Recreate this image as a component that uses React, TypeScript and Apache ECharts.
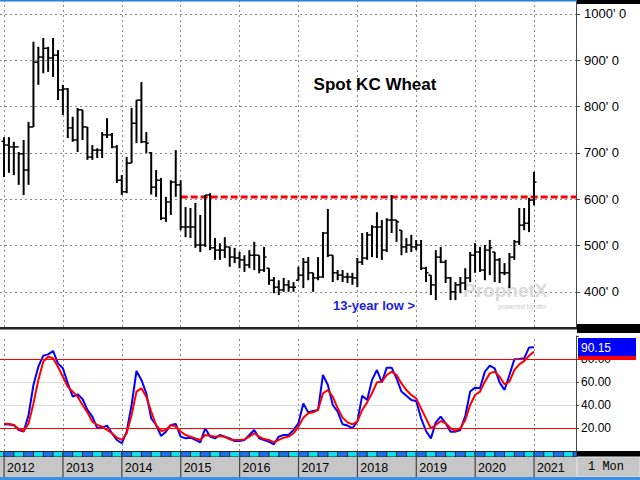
import React, { useEffect, useRef } from "react";
import * as echarts from "echarts";

// ---- data (monthly, Jan 2012 .. Jan 2021) ----
const yearLabels = ["2012", "2013", "2014", "2015", "2016", "2017", "2018", "2019", "2020", "2021"];
const yearStartMonths = [0, 12, 24, 36, 48, 60, 72, 84, 96, 108];

const openPrices = [
  725, 717, 713, 713, 698, 663, 756, 896, 907, 926, 905, 911,
  836, 838, 754, 728, 793, 756, 691, 706, 706, 739, 739, 713,
  641, 616, 678, 764, 814, 724, 700, 626, 641, 559, 594, 637,
  631, 540, 540, 540, 501, 501, 609, 495, 490, 490, 497, 475,
  473, 469, 458, 479, 479, 447, 451, 425, 410, 404, 415, 410,
  425, 436, 464, 441, 430, 432, 527, 479, 441, 436, 432, 432,
  430, 464, 473, 523, 540, 540, 490, 555, 555, 533, 497, 501,
  497, 501, 451, 436, 415, 475, 464, 430, 400, 415, 419, 430,
  479, 486, 447, 490, 486, 469, 441, 441, 475, 508, 544, 548,
  598,
];
const highPrices = [
  734, 734, 724, 702, 728, 767, 940, 929, 948, 929, 948, 922,
  847, 840, 778, 797, 793, 756, 717, 710, 745, 775, 743, 717,
  652, 691, 797, 814, 853, 745, 702, 663, 646, 605, 641, 706,
  641, 583, 581, 592, 566, 609, 613, 516, 505, 518, 497, 495,
  486, 479, 490, 508, 479, 497, 451, 432, 425, 430, 425, 421,
  454, 473, 475, 441, 475, 529, 579, 479, 447, 447, 441, 441,
  473, 527, 529, 544, 572, 555, 559, 609, 555, 533, 516, 523,
  512, 512, 454, 436, 490, 497, 469, 432, 421, 432, 451, 486,
  505, 497, 501, 512, 486, 473, 462, 484, 512, 581, 581, 603,
  659,
];
const lowPrices = [
  648, 657, 652, 631, 609, 631, 756, 847, 872, 875, 864, 814,
  782, 732, 724, 702, 728, 685, 685, 689, 689, 732, 710, 635,
  609, 613, 678, 721, 721, 700, 610, 605, 555, 551, 566, 605,
  533, 518, 516, 495, 486, 497, 490, 469, 469, 473, 454, 462,
  451, 443, 451, 447, 440, 443, 415, 397, 393, 400, 400, 400,
  425, 408, 425, 400, 425, 430, 475, 421, 425, 421, 419, 415,
  410, 458, 469, 475, 473, 469, 486, 527, 508, 479, 484, 486,
  490, 447, 421, 393, 382, 462, 419, 382, 382, 397, 404, 421,
  441, 443, 425, 436, 421, 419, 436, 408, 469, 501, 533, 529,
  587,
];
const closePrices = [
  717, 713, 713, 698, 663, 756, 896, 907, 926, 905, 911, 836,
  838, 754, 728, 793, 756, 691, 706, 706, 739, 739, 713, 641,
  616, 678, 764, 814, 724, 721, 626, 641, 559, 594, 637, 631,
  540, 540, 540, 501, 501, 609, 495, 490, 490, 497, 475, 473,
  469, 458, 479, 479, 447, 475, 425, 410, 404, 415, 410, 410,
  436, 464, 441, 430, 432, 527, 479, 441, 436, 432, 432, 430,
  464, 473, 523, 540, 540, 490, 555, 555, 551, 497, 501, 497,
  501, 451, 441, 415, 475, 464, 430, 400, 415, 419, 430, 479,
  486, 447, 490, 495, 469, 441, 441, 475, 508, 544, 548, 598,
  637,
];
const stochK = [
  23.3, 23, 22.6, 18.3, 16.8, 31.3, 57.4, 73.3, 82.9, 84, 87, 76.2,
  71.9, 58.8, 47.3, 49.3, 45.2, 35.7, 29.9, 19.8, 20.3, 22.1, 15.4, 9.6,
  6.7, 16.8, 40, 69.6, 61.8, 50.2, 28.4, 22.6, 13.1, 16.8, 22.6, 23.5,
  12.5, 11.0, 11.6, 9.6, 7.5, 19.8, 12.5, 11.0, 13.9, 12.5, 11.0, 8.7,
  8.7, 9.6, 13.9, 18.3, 11.0, 9.6, 8.1, 5.8, 12.5, 13.9, 13.9, 18.3,
  24.1, 41.4, 33.6, 34.8, 35.7, 66.1, 57.4, 40, 34.2, 23.2, 22.1, 19.8,
  25.5, 48.1, 44.3, 61.8, 70.4, 59.7, 72.5, 72.5, 63.2, 51.7, 48.1, 44.3,
  43.5, 28.4, 17.4, 11.0, 24.9, 29.9, 24.1, 16.8, 16.8, 18.3, 30.4, 51.7,
  55.1, 54.5, 69, 74.2, 71.9, 59.7, 53.0, 66.1, 79.7, 80, 80.6, 89.9,
  90.15,
];
const stochD = [
  24, 23.5, 22.6, 19.1, 17.4, 24, 41.4, 61.7, 77.7, 82, 80.6, 73.3,
  64.6, 55.9, 51.6, 47.2, 40, 33.6, 25.5, 22.6, 21.2, 18.3, 15.4, 11.6,
  9.6, 15.4, 31.3, 51.6, 54.5, 47.2, 34.2, 22.6, 17.4, 18.3, 22.6, 21.2,
  16.8, 13.9, 12.5, 11.0, 9.6, 13.9, 13.3, 12.5, 13.1, 12.2, 10.1, 9.6,
  9.6, 10.1, 12.5, 15.4, 12.5, 10.4, 9.6, 7.5, 9.6, 11.6, 12.5, 15.4,
  21.2, 29, 32.8, 33.6, 35.7, 50.2, 53.0, 47.2, 37.1, 29, 24.9, 23.2,
  25.5, 35.7, 42.3, 50.2, 59.7, 60.3, 66.1, 69, 66.1, 58.8, 53.0, 48.7,
  45.8, 37.1, 28.4, 19.8, 22.6, 26.1, 24.1, 19.8, 17.4, 19.8, 27, 40,
  48.7, 51.6, 60.3, 67.5, 69, 64.6, 58.0, 60.3, 70.4, 75.4, 78.2, 82.9,
  86.4,
];
const priceGridLevels = [400, 500, 600, 700, 800, 900, 1000];
const stochGridLevels = [40, 60];
const stochBands = [20, 80];
const resistancePrice = 605;
const resistanceStartMonth = 36; // Jan 2015
const lastStochLabel = "90.15";
const chartTitle = "Spot KC Wheat";
const noteText = "13-year low >";

// ---- layout constants ----
const MONTH_PX = 4.907;
const PLOT_RIGHT = 576;
const X_MIN = -4 / MONTH_PX;
const X_MAX = (PLOT_RIGHT - 4) / MONTH_PX;
const PRICE_MIN = 324.0;
const PRICE_MAX = 1030.22;

export default function App() {
  const ref = useRef<HTMLDivElement>(null);

  useEffect(() => {
    if (!ref.current) return;
    const chart = echarts.init(ref.current, undefined, { renderer: "svg" });

    const ohlc = openPrices.map((o, i) => [i, o, highPrices[i], lowPrices[i], closePrices[i]]);

    const font = "Liberation Sans, Arial, Helvetica, sans-serif";
    const dotted = { color: "#8a8a8a", type: [2, 3], width: 1 };

    const xBase = {
      type: "value" as const,
      min: X_MIN,
      max: X_MAX,
      splitLine: { show: false },
      axisLabel: { show: false },
      axisTick: { show: false },
      axisLine: { show: false },
    };

    // decorative strip segments
    const stripEls: any[] = [];
    for (let k = -1; k < 60; k++) {
      const x0 = 4 + k * 2 * MONTH_PX;
      if (x0 > PLOT_RIGHT) break;
      const w = Math.min(2 * MONTH_PX - 1, PLOT_RIGHT - x0);
      stripEls.push({
        type: "rect",
        z: -5,
        shape: { x: x0 + 0.5, y: 452, width: w, height: 4.5 },
        style: { fill: k % 2 === 0 ? "#1c6fe6" : "#10e0ee" },
      });
    }

    const priceTickValues = priceGridLevels;
    const stochTickValues = [20, 40, 60, 80];

    const option: any = {
      animation: false,
      backgroundColor: "#ffffff",
      textStyle: { fontFamily: font },
      grid: [
        { left: 0, right: 640 - PLOT_RIGHT, top: 0, height: 327, containLabel: false, outerBoundsMode: "none" },
        { left: 0, right: 640 - PLOT_RIGHT, top: 336, height: 115, containLabel: false, outerBoundsMode: "none" },
      ],
      xAxis: [
        { ...xBase, gridIndex: 0 },
        { ...xBase, gridIndex: 1 },
      ],
      yAxis: [
        {
          type: "value",
          gridIndex: 0,
          position: "right",
          min: PRICE_MIN,
          max: PRICE_MAX,
          axisLine: { show: true, onZero: false, lineStyle: { color: "#444", width: 1 } },
          axisTick: { show: true, length: 4, customValues: priceTickValues, lineStyle: { color: "#444" } },
          splitLine: { show: false },
          axisLabel: {
            margin: 8,
            fontSize: 13,
            color: "#000",
            customValues: priceTickValues,
            formatter: (v: number) => `${v}' 0`,
          },
        },
        {
          type: "value",
          gridIndex: 1,
          position: "right",
          min: 0,
          max: 100,
          interval: 20,
          axisLine: { show: true, onZero: false, lineStyle: { color: "#444", width: 1 } },
          axisTick: { show: true, length: 3, lineStyle: { color: "#444" } },
          splitLine: { show: false },
          axisLabel: {
            margin: 5,
            fontSize: 12,
            color: "#000",
            formatter: (v: number) => (stochTickValues.indexOf(v) >= 0 ? v.toFixed(2) : ""),
          },
        },
      ],
      series: [
        {
          type: "line",
          xAxisIndex: 0,
          yAxisIndex: 0,
          data: [
            [resistanceStartMonth, resistancePrice],
            [X_MAX, resistancePrice],
          ],
          showSymbol: false,
          z: 3,
          lineStyle: { color: "#ff0000", width: 3, type: [7, 3] },
          markLine: {
            silent: true,
            z: 1,
            symbol: ["none", "none"],
            label: { show: false },
            lineStyle: dotted,
            data: [
              ...priceGridLevels.map((p) => ({ yAxis: p })),
              ...yearStartMonths.map((m) => ({ xAxis: m })),
            ],
          },
        },
        {
          type: "custom",
          xAxisIndex: 0,
          yAxisIndex: 0,
          z: 5,
          data: ohlc,
          encode: { x: 0, y: [1, 2, 3, 4] },
          renderItem: (params: any, api: any) => {
            const x = api.value(0);
            const pH = api.coord([x, api.value(2)]);
            const pL = api.coord([x, api.value(3)]);
            const pO = api.coord([x, api.value(1)]);
            const pC = api.coord([x, api.value(4)]);
            const st = { stroke: "#000", lineWidth: 2 };
            const tk = { stroke: "#000", lineWidth: 1.5 };
            return {
              type: "group",
              children: [
                { type: "line", shape: { x1: pH[0], y1: pH[1], x2: pL[0], y2: pL[1] }, style: st },
                { type: "line", shape: { x1: pO[0] - 2.5, y1: pO[1], x2: pO[0], y2: pO[1] }, style: tk },
                { type: "line", shape: { x1: pC[0], y1: pC[1], x2: pC[0] + 2.5, y2: pC[1] }, style: tk },
              ],
            };
          },
        },
        {
          type: "line",
          xAxisIndex: 1,
          yAxisIndex: 1,
          data: stochK.map((v, i) => [i, v]),
          showSymbol: false,
          z: 4,
          lineStyle: { color: "#0000ff", width: 2 },
          markLine: {
            silent: true,
            z: 1,
            symbol: ["none", "none"],
            label: { show: false },
            lineStyle: dotted,
            data: [
              ...yearStartMonths.map((m) => ({ xAxis: m })),
              ...stochGridLevels.map((v) => ({ yAxis: v, lineStyle: { color: "#dedede", type: "solid", width: 1 } })),
            ],
          },
        },
        {
          type: "line",
          xAxisIndex: 1,
          yAxisIndex: 1,
          data: stochD.map((v, i) => [i, v]),
          showSymbol: false,
          z: 5,
          lineStyle: { color: "#ff0000", width: 2 },
          markLine: {
            silent: true,
            symbol: ["none", "none"],
            label: { show: false },
            lineStyle: { color: "#ff0000", type: "solid", width: 1 },
            data: stochBands.map((v) => ({ yAxis: v })),
          },
        },
      ],
      graphic: [
        { type: "rect", z: 50, shape: { x: 0, y: 0, width: 640, height: 1.5 }, style: { fill: "#2a7fe6" } },
        { type: "rect", z: 50, shape: { x: 577, y: 0, width: 63, height: 4 }, style: { fill: "#000" } },
        { type: "rect", z: 50, shape: { x: 0, y: 327, width: 577, height: 2.5 }, style: { fill: "#222" } },
        { type: "rect", z: 50, shape: { x: 577, y: 324, width: 63, height: 9 }, style: { fill: "#000" } },
        ...stripEls,
        { type: "rect", z: -6, shape: { x: 0, y: 457, width: 577, height: 20 }, style: { fill: "#c6c6c6" } },
        { type: "rect", z: -6, shape: { x: 0, y: 451, width: 577, height: 6 }, style: { fill: "#222" } },
        { type: "rect", z: 50, shape: { x: 577, y: 451, width: 63, height: 6 }, style: { fill: "#000" } },
        { type: "rect", z: 50, shape: { x: 577, y: 457, width: 63, height: 20 }, style: { fill: "#c6c6c6", stroke: "#e8e8e8", lineWidth: 1 } },
        {
          type: "text",
          z: 51,
          x: 606,
          y: 467,
          style: {
            text: "1 Mon",
            fill: "#000",
            font: "12px 'Liberation Mono', 'DejaVu Sans Mono', monospace",
            align: "center",
            verticalAlign: "middle",
          },
        },
        { type: "rect", z: 50, shape: { x: 0, y: 477, width: 640, height: 3 }, style: { fill: "#3a8ee8" } },
        { type: "rect", z: 52, shape: { x: 578, y: 338, width: 58, height: 18 }, style: { fill: "#0000ff" } },
        { type: "rect", z: 52, shape: { x: 578, y: 356, width: 58, height: 4 }, style: { fill: "#ff0000" } },
        {
          type: "text",
          z: 53,
          x: 581,
          y: 347.5,
          style: { text: lastStochLabel, fill: "#fff", font: `12px ${font}`, verticalAlign: "middle" },
        },
        {
          type: "text",
          z: 20,
          x: 375,
          y: 84,
          style: {
            text: chartTitle,
            fill: "#000",
            font: `bold 17px ${font}`,
            align: "center",
            verticalAlign: "middle",
          },
        },
        {
          type: "text",
          z: 20,
          x: 333,
          y: 305,
          style: {
            text: noteText,
            fill: "#1c1ce0",
            font: `bold 13px ${font}`,
            verticalAlign: "middle",
          },
        },
        {
          type: "text",
          z: 2,
          x: 463,
          y: 290,
          style: {
            text: "ProphetX",
            fill: "#dadada",
            font: `bold 19px ${font}`,
            verticalAlign: "middle",
          },
        },
        {
          type: "text",
          z: 2,
          x: 498,
          y: 306,
          style: { text: "powered by dtn", fill: "#cccccc", font: `7px ${font}`, verticalAlign: "middle" },
        },
        ...yearLabels.map((t, k) => ({
          type: "text",
          z: 20,
          x: 4 + yearStartMonths[k] * MONTH_PX + 3,
          y: 467.5,
          style: { text: t, fill: "#000", font: `12.5px ${font}`, verticalAlign: "middle" },
        })),
        ...yearStartMonths.map((m) => ({
          type: "rect",
          z: -4,
          shape: { x: 3.5 + m * MONTH_PX, y: 451, width: 1.2, height: 26 },
          style: { fill: "#444" },
        })),
      ],
    };

    chart.setOption(option);
    return () => chart.dispose();
  }, []);

  return (
    <div
      ref={ref}
      style={{ position: "absolute", left: 0, top: 0, width: 640, height: 480 }}
    />
  );
}
